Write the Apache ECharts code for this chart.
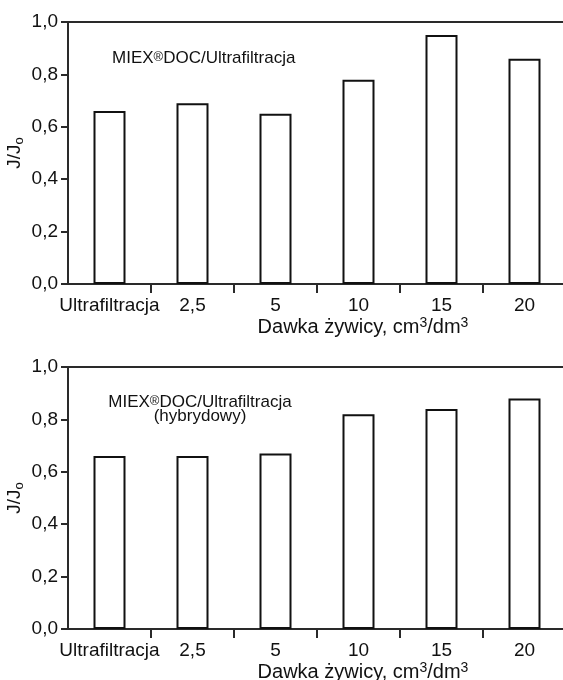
<!DOCTYPE html>
<html>
<head>
<meta charset="utf-8">
<script src="https://cdn.jsdelivr.net/npm/echarts@6/dist/echarts.min.js"></script>
<style>html,body{margin:0;padding:0;background:#fff;}#c{width:563px;height:680px;}</style>
</head>
<body>
<div id="c"></div>
<script>
const categories = ['Ultrafiltracja', '2,5', '5', '10', '15', '20'];
const valuesTop = [0.66, 0.69, 0.65, 0.78, 0.95, 0.86];
const valuesBottom = [0.66, 0.66, 0.67, 0.82, 0.84, 0.88];
const yMin = 0, yMax = 1, yStep = 0.2;
const xName = '{a|Dawka żywicy, cm}{s|3}{a|/dm}{s|3}';
const yName = '{a|J/J}{b|o}';
const noteTop = '{a|MIEX}{s|®}{a|DOC/Ultrafiltracja}';
const noteBottom = '{a|MIEX}{s|®}{a|DOC/Ultrafiltracja}\n{a|(hybrydowy)}';

const FONT = 'Liberation Sans';
const TXT = '#111';
const LINE = '#2a2a2a';

const chart = echarts.init(document.getElementById('c'), null, {renderer: 'canvas'});

function xAxes(gi) {
  return [{
    type: 'category', gridIndex: gi, data: categories, position: 'bottom',
    axisLine: {lineStyle: {color: LINE, width: 2}},
    axisTick: {show: true, length: 9, lineStyle: {color: LINE, width: 2}, interval: (i) => i > 0},
    axisLabel: {interval: 0, color: TXT, fontFamily: FONT, fontSize: 19, margin: 12},
    name: xName, nameLocation: 'middle', nameGap: 32, nameMoveOverlap: false,
    nameTextStyle: {padding: [0, 0, 0, 92], rich: {
      a: {fontFamily: FONT, fontSize: 20, color: TXT, lineHeight: 22},
      s: {fontFamily: FONT, fontSize: 14, color: TXT, lineHeight: 14, verticalAlign: 'top'}
    }}
  }, {
    type: 'category', gridIndex: gi, data: categories, position: 'top',
    axisLine: {lineStyle: {color: LINE, width: 2}},
    axisTick: {show: false}, axisLabel: {show: false}
  }];
}
function yAxis(gi) {
  return {
    type: 'value', gridIndex: gi, min: yMin, max: yMax, interval: yStep,
    splitLine: {show: false},
    axisLine: {show: true, lineStyle: {color: LINE, width: 2}},
    axisTick: {show: true, length: 7, lineStyle: {color: LINE, width: 2}},
    axisLabel: {color: TXT, fontFamily: FONT, fontSize: 19, margin: 10,
      formatter: v => v.toFixed(1).replace('.', ',')},
    name: yName, nameLocation: 'middle', nameGap: 42, nameMoveOverlap: false,
    nameTextStyle: {rich: {
      a: {fontFamily: FONT, fontSize: 19, color: TXT, lineHeight: 22},
      b: {fontFamily: FONT, fontSize: 13, color: TXT, lineHeight: 13, verticalAlign: 'bottom'}
    }}
  };
}
const barStyle = {color: '#fff', borderColor: '#111', borderWidth: 2};
const noteRich = {
  a: {fontFamily: FONT, fontSize: 17, fill: TXT, lineHeight: 14},
  s: {fontFamily: FONT, fontSize: 13, fill: TXT, lineHeight: 12, verticalAlign: 'top'}
};

chart.setOption({
  animation: false,
  backgroundColor: '#fff',
  grid: [
    {left: 68, top: 22, width: 498, height: 262, outerBoundsMode: 'none', containLabel: false},
    {left: 68, top: 367, width: 498, height: 262, outerBoundsMode: 'none', containLabel: false}
  ],
  xAxis: [...xAxes(0), ...xAxes(1)],
  yAxis: [yAxis(0), yAxis(1)],
  series: [
    {type: 'bar', xAxisIndex: 0, yAxisIndex: 0, data: valuesTop, barWidth: 32, itemStyle: barStyle},
    {type: 'bar', xAxisIndex: 2, yAxisIndex: 1, data: valuesBottom, barWidth: 32, itemStyle: barStyle}
  ],
  graphic: [
    {type: 'text', x: 112, y: 58, style: {text: noteTop, rich: noteRich, align: 'left', verticalAlign: 'middle'}},
    {type: 'text', x: 200, y: 409, style: {text: noteBottom, rich: noteRich, align: 'center', verticalAlign: 'middle'}}
  ]
});
</script>
</body>
</html>
